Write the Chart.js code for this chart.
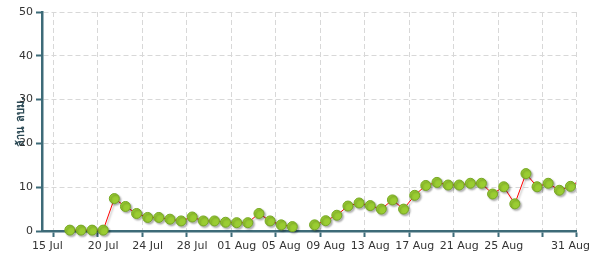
<!DOCTYPE html>
<html>
<head>
<meta charset="utf-8">
<script src="https://cdn.jsdelivr.net/npm/chart.js@4.4.0/dist/chart.umd.min.js"></script>
<style>
  html, body { margin: 0; padding: 0; background: #fff; }
  #wrap { width: 594px; height: 255px; }
</style>
</head>
<body>
<div id="wrap"><canvas id="waterChart"></canvas></div>
<script>
// daily values (million m3), one per day, null = no reading
const dates = ["17 Jul","18 Jul","19 Jul","20 Jul","21 Jul","22 Jul","23 Jul","24 Jul","25 Jul","26 Jul",
  "27 Jul","28 Jul","29 Jul","30 Jul","31 Jul","01 Aug","02 Aug","03 Aug","04 Aug","05 Aug","06 Aug",
  "07 Aug","08 Aug","09 Aug","10 Aug","11 Aug","12 Aug","13 Aug","14 Aug","15 Aug","16 Aug","17 Aug",
  "18 Aug","19 Aug","20 Aug","21 Aug","22 Aug","23 Aug","24 Aug","25 Aug","26 Aug","27 Aug","28 Aug",
  "29 Aug","30 Aug","31 Aug","01 Sep"];
const values = [0.2,0.2,0.2,0.2,7.4,5.6,4.0,3.1,3.1,2.7,
  2.3,3.2,2.3,2.3,2.0,1.9,1.9,4.0,2.3,1.4,1.0,
  null,1.4,2.35,3.6,5.7,6.4,5.8,5.0,7.1,5.0,8.15,
  10.4,11.1,10.5,10.5,10.9,10.9,8.45,10.1,6.2,13.1,10.1,
  10.9,9.3,10.2,11.8];

const xTickLabels = ["15 Jul","20 Jul","24 Jul","28 Jul","01 Aug","05 Aug","09 Aug","13 Aug","17 Aug","21 Aug","25 Aug","31 Aug"];
const xGridDates = ["16 Jul","20 Jul","24 Jul","28 Jul","01 Aug","05 Aug","09 Aug","13 Aug","17 Aug","21 Aug","25 Aug","29 Aug","01 Sep"];
const yTicks = [0,10,20,30,40,50];
const yTitle = "ล้าน ลบม.";

// day number counted from 1 Jul = 1
const monthStart = { Jul: 0, Aug: 31, Sep: 62 };
function dayNum(s) {
  const p = s.split(" ");
  return monthStart[p[1]] + parseInt(p[0], 10);
}

const points = dates.map((d, i) => ({ x: dayNum(d) + 0.5, y: values[i] }));
const labelMap = {};
xTickLabels.forEach(l => { labelMap[dayNum(l)] = l; });
const gridSet = new Set(xGridDates.map(dayNum));
const xTickValues = Array.from(new Set([...Object.keys(labelMap).map(Number), ...gridSet])).sort((a, b) => a - b);

const axisColor = "#3d6b78";
const gridColor = "#d8d8d8";
const font = { family: "DejaVu Sans", size: 11 };

const shadowPlugin = {
  id: "shadow",
  beforeDatasetsDraw(chart) {
    const ctx = chart.ctx;
    ctx.save();
    ctx.shadowColor = "rgba(0,0,0,0.3)";
    ctx.shadowOffsetX = 1.5;
    ctx.shadowOffsetY = 1.5;
    ctx.shadowBlur = 2;
  },
  afterDatasetsDraw(chart) {
    chart.ctx.restore();
  }
};

const ctx = document.getElementById("waterChart").getContext("2d");
let waterChart = new Chart(ctx, {
  type: "line",
  data: {
    datasets: [{
      data: points,
      borderColor: "#ff0000",
      borderWidth: 1,
      pointBackgroundColor: "#9acd32",
      pointBorderColor: "#76a824",
      pointBorderWidth: 1,
      pointRadius: 5,
      pointHoverRadius: 5,
      tension: 0,
      spanGaps: false,
      clip: { left: 0, top: 6, right: 0, bottom: 8 },
    }],
  },
  options: {
    responsive: true,
    maintainAspectRatio: false,
    animation: false,
    layout: { padding: { top: 12, right: 18, bottom: 0, left: 0 } },
    plugins: {
      legend: { display: false },
      tooltip: { enabled: false },
    },
    scales: {
      x: {
        type: "linear",
        min: 15,
        max: 63,
        afterBuildTicks: s => { s.ticks = xTickValues.map(v => ({ value: v })); },
        afterFit: s => { s.height = 24; },
        ticks: {
          autoSkip: false,
          maxRotation: 0,
          labelOffset: 5.5,
          padding: 3,
          color: "#333",
          font: font,
          callback: v => labelMap[v] || "",
        },
        grid: {
          color: c => (c.tick && gridSet.has(c.tick.value)) ? gridColor : "rgba(0,0,0,0)",
          tickColor: c => (c.tick && gridSet.has(c.tick.value)) ? axisColor : "rgba(0,0,0,0)",
          tickLength: 6,
          tickWidth: 2,
        },
        border: { color: axisColor, width: 2.5, dash: [5, 3] },
      },
      y: {
        min: 0,
        max: 50,
        afterBuildTicks: s => { s.ticks = yTicks.map(v => ({ value: v })); },
        afterFit: s => { s.width = 42; },
        ticks: { color: "#333", font: font, padding: 3 },
        grid: {
          color: gridColor,
          tickColor: axisColor,
          tickLength: 6,
          tickWidth: 2,
        },
        border: { color: axisColor, width: 2.5, dash: [5, 3] },
        title: {
          display: true,
          text: yTitle,
          color: "#2c4a55",
          font: { family: "DejaVu Sans", size: 11, weight: "bold" },
          padding: { top: 15, bottom: 0 },
        },
      },
    },
  },
  plugins: [shadowPlugin],
});
</script>
</body>
</html>
